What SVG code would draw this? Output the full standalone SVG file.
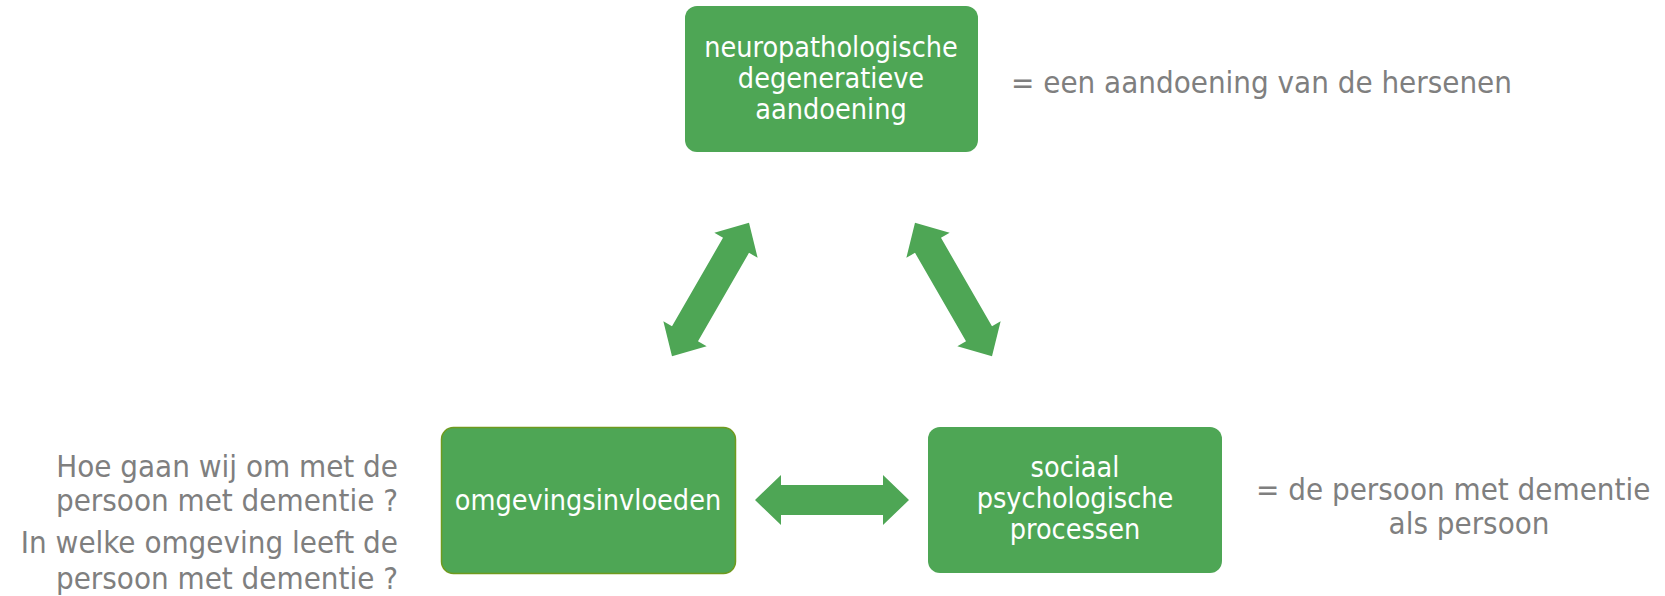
<svg xmlns="http://www.w3.org/2000/svg" width="1665" height="596" viewBox="0 0 1665 596">
<style>
.box{fill:#4ea655;}
.wt{fill:#ffffff;font-family:"DejaVu Sans Condensed",sans-serif;font-size:28.5px;text-anchor:middle;}
.gt{fill:#7f7f7f;font-family:"DejaVu Sans Condensed",sans-serif;font-size:31px;}
.arr{fill:#4ea655;}
</style>
<defs>
<polygon id="dbl" points="-77,0 -51,-25 -51,-15 51,-15 51,-25 77,0 51,25 51,15 -51,15 -51,25"/>
</defs>
<rect width="1665" height="596" fill="#ffffff"/>
<g id="connectors">
<use href="#dbl" class="arr" transform="translate(832,500)"/>
<use href="#dbl" class="arr" transform="translate(710.5,289.5) rotate(120)"/>
<use href="#dbl" class="arr" transform="translate(953.5,289.5) rotate(60)"/>
</g>
<g id="node-top">
<rect class="box" x="685" y="6" width="293" height="146" rx="12"/>
<text class="wt" x="831" y="57">neuropathologische</text>
<text class="wt" x="831" y="88">degeneratieve</text>
<text class="wt" x="831" y="119">aandoening</text>
</g>
<g id="node-left">
<rect class="box" x="441.5" y="427.5" width="294" height="146" rx="12" stroke="#6f9a1e" stroke-width="1.5"/>
<text class="wt" x="588" y="510">omgevingsinvloeden</text>
</g>
<g id="node-right">
<rect class="box" x="928" y="427" width="294" height="146" rx="12"/>
<text class="wt" x="1075" y="477">sociaal</text>
<text class="wt" x="1075" y="508">psychologische</text>
<text class="wt" x="1075" y="539">processen</text>
</g>
<g id="annotations">
<text class="gt" x="1011" y="93">= een aandoening van de hersenen</text>
<text class="gt" x="1256" y="500">= de persoon met dementie</text>
<text class="gt" x="1469" y="534" text-anchor="middle">als persoon</text>
<text class="gt" x="398" y="477" text-anchor="end">Hoe gaan wij om met de</text>
<text class="gt" x="398" y="511" text-anchor="end">persoon met dementie ?</text>
<text class="gt" x="398" y="553" text-anchor="end">In welke omgeving leeft de</text>
<text class="gt" x="398" y="589" text-anchor="end">persoon met dementie ?</text>
</g>
</svg>
